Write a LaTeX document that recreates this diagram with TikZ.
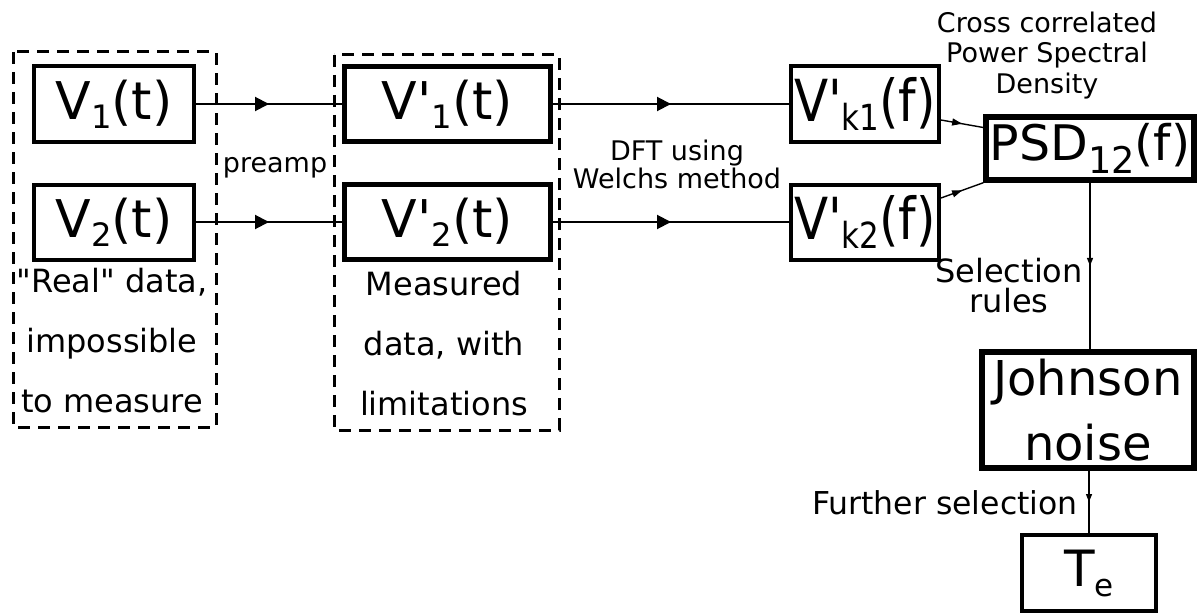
\documentclass[tikz,border=0pt]{standalone}
\usepackage{fontspec}
\setmainfont{DejaVu Sans}[Ligatures=TeXOff]
\usepackage{tikz}
\usetikzlibrary{arrows.meta,calc}

% lowered, shrunk index: shift (em), scale, text
\newcommand{\lo}[3]{\raisebox{-#1em}{\scalebox{#2}{#3}}}

\begin{document}
\begin{tikzpicture}[
  x=1pt,y=-1pt,
  sig/.style={draw,line width=4pt,inner sep=0pt,minimum height=75pt,font=\fontsize{52}{60}\selectfont},
  group/.style={line width=3pt,dash pattern=on 12pt off 8pt},
  lab/.style={align=center,inner sep=0pt},
  flow/.style={line width=2pt,-{Triangle[length=14pt,width=14pt]}},
  dflow/.style={line width=1.4pt,-{Triangle[length=10pt,width=7pt]}},
  vflow/.style={line width=1.3pt,-{Triangle[length=8pt,width=6pt]}}
]
  \useasboundingbox (0,0) rectangle (1198,615);

  % groups
  \draw[group] (13,52) rectangle (216,427);
  \draw[group] (334,55) rectangle (559,430);

  % signals
  \node[sig,minimum width=160pt] (v1) at (114,104) {V\lo{0.17}{0.62}{1}(t)};
  \node[sig,minimum width=160pt] (v2) at (114,222) {V\lo{0.17}{0.62}{2}(t)};
  \node[sig,line width=5pt,minimum width=206pt] (vp1) at (447.5,104) {V'\lo{0.17}{0.62}{1}(t)};
  \node[sig,line width=5pt,minimum width=206pt] (vp2) at (447.5,222) {V'\lo{0.17}{0.62}{2}(t)};
  \node[sig,minimum width=148pt] (vk1) at (865,104) {\scalebox{0.86}[1]{\fontsize{58}{60}\selectfont V'\lo{0.14}{0.62}{k1}(f)}};
  \node[sig,minimum width=148pt] (vk2) at (865,222) {\scalebox{0.86}[1]{\fontsize{58}{60}\selectfont V'\lo{0.14}{0.62}{k2}(f)}};
  \node[sig,line width=5.5pt,minimum width=208pt,minimum height=63pt,font=\fontsize{49}{60}\selectfont] (psd) at (1090,148.5) {PSD\lo{0.28}{0.75}{12}(f)};
  \node[sig,line width=6pt,minimum width=212pt,minimum height=116pt,align=center,font=\fontsize{48}{65}\selectfont] (jn) at (1088,410) {Johnson\\noise};
  \node[sig,minimum width=134pt,minimum height=76pt,font=\fontsize{50}{60}\selectfont] (te) at (1089,573) {T\lo{0.2}{0.62}{e}};

  % labels
  \node[lab,font=\fontsize{27}{30}\selectfont] (pre) at (275,168) {preamp};
  \node[lab,font=\fontsize{32}{60}\selectfont] (real) at (112,341) {"Real" data,\\impossible\\to measure};
  \node[lab,font=\fontsize{32}{60}\selectfont] (meas) at (444,344) {Measured\\data, with\\limitations};
  \node[lab,font=\fontsize{27}{28}\selectfont] (dft) at (677,164) {DFT using\\Welchs method};
  \node[lab,font=\fontsize{27}{30.5}\selectfont] (cross) at (1047,55.5) {Cross correlated\\Power Spectral\\Density};
  \node[lab,font=\fontsize{32}{30}\selectfont] (sel) at (1009,286) {Selection\\rules};
  \node[lab,anchor=east,font=\fontsize{31.5}{34}\selectfont] (fur) at (1078,503) {Further selection};

  % connector ends
  \coordinate (k1out) at ([yshift=-16pt]vk1.east);
  \coordinate (k1in) at ([yshift=21pt]psd.west);
  \coordinate (k2out) at ([yshift=24pt]vk2.east);
  \coordinate (jtop) at (psd.south |- jn.north);
  \coordinate (jbot) at (jn.south -| te.north);

  % connectors, tip half way
  \foreach \a/\b/\s in {v1.east/vp1.west/flow, v2.east/vp2.west/flow,
      vp1.east/vk1.west/flow, vp2.east/vk2.west/flow,
      k1out/k1in/dflow, k2out/psd.south west/dflow,
      psd.south/jtop/vflow, jbot/te.north/vflow}
    \draw[\s] (\a) -- (\b) (\a) -- ($(\a)!0.5!(\b)$);
\end{tikzpicture}
\end{document}
